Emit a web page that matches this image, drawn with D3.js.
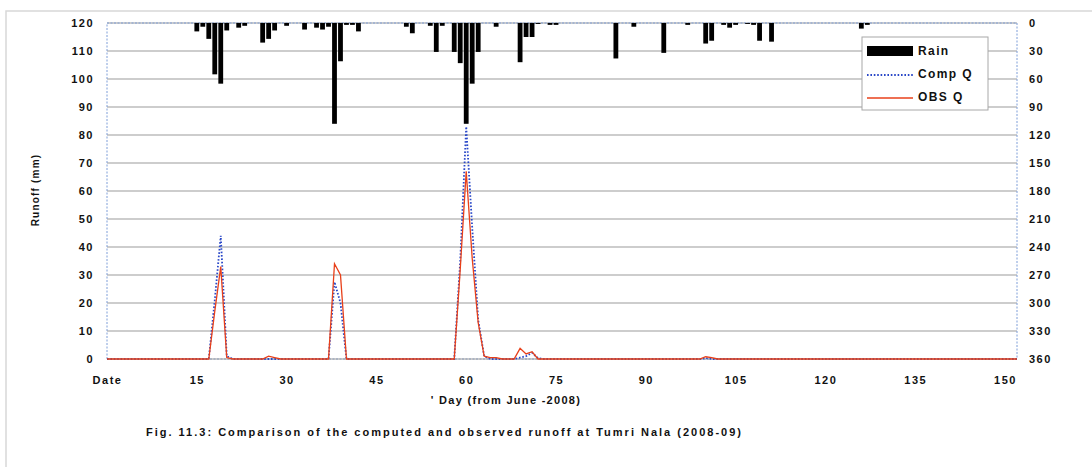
<!DOCTYPE html>
<html>
<head>
<meta charset="utf-8">
<script src="https://cdn.jsdelivr.net/npm/d3@7"></script>
<style>
body { margin: 0; background: #fff; }
text { font-family: 'Liberation Sans', Arial, sans-serif; font-weight: bold; fill: #111; }
</style>
</head>
<body>
<script>
// daily runoff (mm), day 0 ("Date") to day 152
var compQ = [
	0,0,0,0,0,0,0,0,0,0,0,0,0,0,0,0,0,0,21,44,
	1,0,0,0,0,0,0,0,0,0,0,0,0,0,0,0,0,0,27.5,20,
	0,0,0,0,0,0,0,0,0,0,0,0,0,0,0,0,0,0,0,35,
	83,47,14,1,0,0,0,0,0,0.5,1,2.2,0.3,0,0,0,0,0,0,0,
	0,0,0,0,0,0,0,0,0,0,0,0,0,0,0,0,0,0,0,0,
	0.3,0,0,0,0,0,0,0,0,0,0,0,0,0,0,0,0,0,0,0,
	0,0,0,0,0,0,0,0,0,0,0,0,0,0,0,0,0,0,0,0,
	0,0,0,0,0,0,0,0,0,0,0,0,0
];
var obsQ = [
	0,0,0,0,0,0,0,0,0,0,0,0,0,0,0,0,0,0,17,33,
	0.5,0,0,0,0,0,0,1,0.5,0,0,0,0,0,0,0,0,0,34,30,
	0,0,0,0,0,0,0,0,0,0,0,0,0,0,0,0,0,0,0,32,
	67,36,13,1,0.5,0.5,0,0,0,3.8,1.8,2.6,0,0,0,0,0,0,0,0,
	0,0,0,0,0,0,0,0,0,0,0,0,0,0,0,0,0,0,0,0,
	0.8,0.5,0,0,0,0,0,0,0,0,0,0,0,0,0,0,0,0,0,0,
	0,0,0,0,0,0,0,0,0,0,0,0,0,0,0,0,0,0,0,0,
	0,0,0,0,0,0,0,0,0,0,0,0,0
];
// rain (mm) only on the days it fell
var rainDays = [15,16,17,18,19,20,22,23,26,27,28,30,33,35,36,37,38,39,40,41,42,
	50,51,54,55,56,58,59,60,61,62,65,69,70,71,72,74,75,85,88,93,97,
	100,101,103,104,105,107,108,109,111,126,127];
var rainMm = [9,4,17,55,65,8,5,3,21,17,8,3,7,5,7,4,108,41,2,2,9,
	4,11,3,31,3,31,43,108,65,31,4,42,15,15,1,2,2,38,4,32,2,
	22,19,2,5,2,1,2,19,20,6,2];

// axis ticks
var qTicks = [0,10,20,30,40,50,60,70,80,90,100,110,120],
	rainTicks = [0,30,60,90,120,150,180,210,240,270,300,330,360],
	xTickDays = [0,15,30,45,60,75,90,105,120,135,150],
	xTickLabels = ['Date','15','30','45','60','75','90','105','120','135','150'];

// plot area
var W = 1092, H = 467,
	p_l = 107, p_r = 1017, p_t = 23, p_b = 359;

var x = d3.scaleLinear().domain([0, compQ.length - 1]).range([p_l, p_r]),
	yQ = d3.scaleLinear().domain([0, 120]).range([p_b, p_t]),
	yRain = d3.scaleLinear().domain([0, 360]).range([p_t, p_b]);

var svg = d3.select('body').append('svg')
	.attr('width', W)
	.attr('height', H);

svg.append('rect').attr('width', W).attr('height', H).attr('fill', '#fff');

// faint outer chart border from the scan
svg.append('path')
	.attr('d', 'M6,' + H + 'V11H' + W)
	.attr('fill', 'none')
	.attr('stroke', '#d8d8d8')
	.attr('stroke-width', 1.5);

// horizontal grid
svg.append('g').selectAll('line')
	.data(qTicks.slice(1))
	.join('line')
	.attr('x1', p_l).attr('x2', p_r)
	.attr('y1', d => yQ(d)).attr('y2', d => yQ(d))
	.attr('stroke', '#bcbcbc')
	.attr('stroke-width', 1.5);

// plot border, dotted blue as in the scan
svg.append('rect')
	.attr('x', p_l).attr('y', p_t)
	.attr('width', p_r - p_l).attr('height', p_b - p_t)
	.attr('fill', 'none')
	.attr('stroke', '#7e9ed8')
	.attr('stroke-dasharray', '2,1.5')
	.attr('stroke-width', 1);

svg.append('line')
	.attr('x1', p_l).attr('x2', p_r)
	.attr('y1', p_b).attr('y2', p_b)
	.attr('stroke', '#9a9a9a')
	.attr('stroke-width', 1.2);

// axes
function style_axis(g) {
	g.select('.domain').remove();
	g.selectAll('text')
		.attr('font-size', 11)
		.attr('letter-spacing', 1.5)
		.attr('fill', '#111');
}

svg.append('g')
	.attr('transform', 'translate(' + p_l + ',0)')
	.call(d3.axisLeft(yQ).tickValues(qTicks).tickSize(0).tickPadding(13))
	.call(style_axis);

svg.append('g')
	.attr('transform', 'translate(' + p_r + ',0)')
	.call(d3.axisRight(yRain).tickValues(rainTicks).tickSize(0).tickPadding(12))
	.call(style_axis);

svg.append('g')
	.attr('transform', 'translate(0,' + p_b + ')')
	.call(d3.axisBottom(x).tickValues(xTickDays).tickSize(0).tickPadding(17)
		.tickFormat((d, i) => xTickLabels[i]))
	.call(style_axis);

// rain bars hanging from the top
svg.append('g').selectAll('rect')
	.data(rainDays)
	.join('rect')
	.attr('x', d => x(d) - 2.4)
	.attr('width', 4.8)
	.attr('y', p_t)
	.attr('height', (d, i) => yRain(rainMm[i]) - p_t)
	.attr('fill', '#000');

// runoff lines
var line = d3.line()
	.x((d, i) => x(i))
	.y(d => yQ(d));

svg.append('path')
	.datum(compQ)
	.attr('d', line)
	.attr('fill', 'none')
	.attr('stroke', '#2a48c8')
	.attr('stroke-width', 1.8)
	.attr('stroke-dasharray', '1.6,1.8');

svg.append('path')
	.datum(obsQ)
	.attr('d', line)
	.attr('fill', 'none')
	.attr('stroke', '#e8401a')
	.attr('stroke-width', 1.3);

// legend
var lg = svg.append('g').attr('transform', 'translate(862,37)');
lg.append('rect')
	.attr('width', 126).attr('height', 73)
	.attr('fill', '#fff')
	.attr('stroke', '#a8a8a8');
lg.append('rect')
	.attr('x', 5).attr('y', 9).attr('width', 46).attr('height', 10)
	.attr('fill', '#000');
lg.append('line')
	.attr('x1', 5).attr('x2', 51).attr('y1', 38).attr('y2', 38)
	.attr('stroke', '#2a48c8').attr('stroke-width', 1.8)
	.attr('stroke-dasharray', '1.6,1.8');
lg.append('line')
	.attr('x1', 5).attr('x2', 51).attr('y1', 61).attr('y2', 61)
	.attr('stroke', '#e8401a').attr('stroke-width', 1.3);
lg.selectAll('text.lab')
	.data(['Rain', 'Comp Q', 'OBS Q'])
	.join('text')
	.attr('class', 'lab')
	.attr('x', 56)
	.attr('y', (d, i) => 14 + i * 23)
	.attr('dy', '0.35em')
	.attr('font-size', 12)
	.attr('letter-spacing', 1.4)
	.text(d => d);

// axis titles and caption
svg.append('text')
	.attr('transform', 'translate(39,190) rotate(-90)')
	.attr('text-anchor', 'middle')
	.attr('font-size', 10)
	.attr('letter-spacing', 1.2)
	.text('Runoff (mm)');

svg.append('text')
	.attr('x', 506).attr('y', 404)
	.attr('text-anchor', 'middle')
	.attr('font-size', 11)
	.attr('letter-spacing', 1.3)
	.text("' Day (from June -2008)");

svg.append('text')
	.attr('x', 146).attr('y', 436)
	.attr('font-size', 11)
	.attr('letter-spacing', 2)
	.text('Fig. 11.3: Comparison of the computed and observed runoff at Tumri Nala (2008-09)');
</script>
</body>
</html>
